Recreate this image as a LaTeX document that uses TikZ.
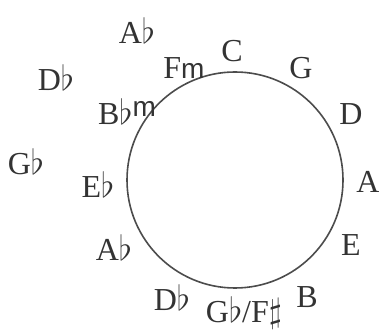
\documentclass[tikz,border=0pt]{standalone}
\usepackage{fontspec}
\setmainfont{Liberation Serif}
\setsansfont{Liberation Sans}
\usepackage{tikz}
\usetikzlibrary{positioning}

\newcommand{\minor}{{\sffamily\fontsize{14}{16}\selectfont m}}

\begin{document}
\begin{tikzpicture}[
  x=0.5pt, y=-0.5pt,
  note/.style={inner sep=0pt, font=\fontsize{16}{18}\selectfont, text=black!80},
  wheel/.style={draw=black!70, line width=0.8pt, circle, minimum size=108pt, inner sep=0pt}
]
\useasboundingbox (0,0) rectangle (379,330);
\node[wheel] (ring) at (235,180) {};

% keys round the circle
\node[note] (c) at (232,51) {C};
\node[note] (g) at (301,68) {G};
\node[note] (d) at (351,114) {D};
\node[note] (a) at (368,182) {A};
\node[note] (e) at (351,245) {E};
\node[note] (b) at (307,297) {B};
\node[note] (gf) at (244,313) {G$\flat$/F$\sharp$};
\node[note] (df) at (172,298) {D$\flat$};
\node[note] (af) at (114,248) {A$\flat$};
\node[note] (ef) at (98,185) {E$\flat$};
\node[note] (bfm) at (127,112) {B$\flat$\raisebox{0.55ex}{\minor}};
\node[note] (fm) at (184,68) {F\minor};

% outer keys
\node[note] (dfo) at (56,78) {D$\flat$};
\node[note] (afo) at (137,31) {A$\flat$};
\node[note] (gfo) at (26,162) {G$\flat$};
\end{tikzpicture}
\end{document}
